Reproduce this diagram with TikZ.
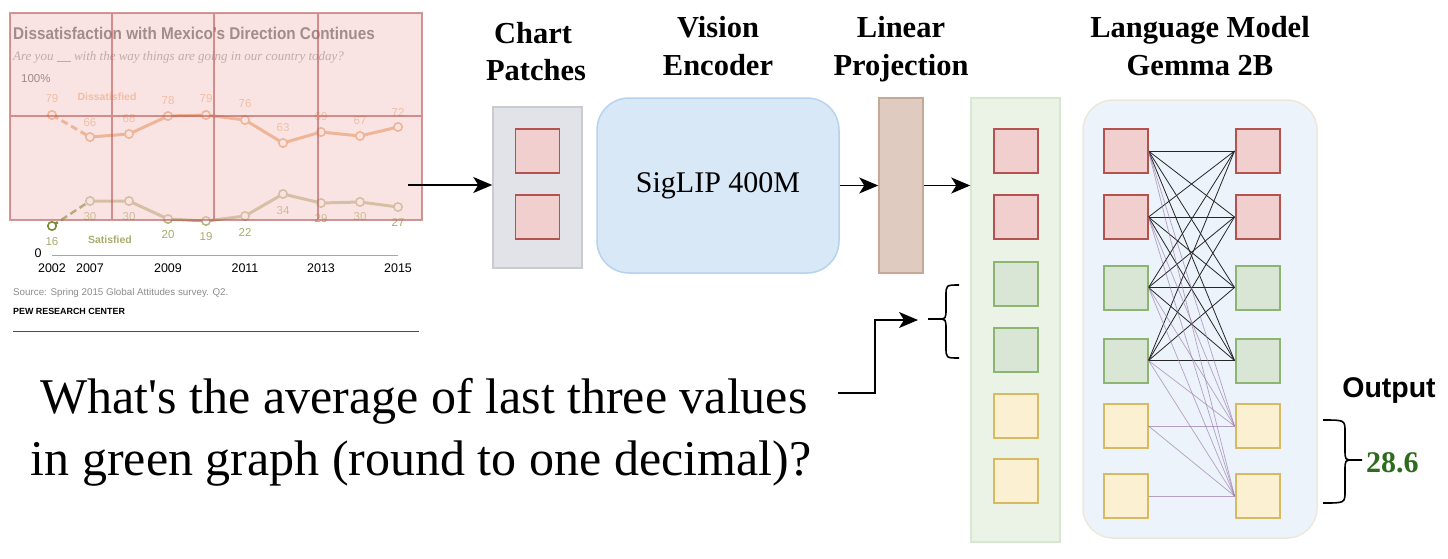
\documentclass[tikz,border=0pt]{standalone}
\usepackage{fontspec}
\setmainfont{Liberation Serif}
\newfontfamily\chartsans{Liberation Sans}
\newfontfamily\qfont{Liberation Serif}[Ligatures=TeXOff]
\usetikzlibrary{arrows.meta}
\definecolor{redF}{HTML}{F1CFCF}
\definecolor{redD}{HTML}{B3524E}
\definecolor{grnF}{HTML}{D9E6D6}
\definecolor{grnD}{HTML}{8CB572}
\definecolor{ylwF}{HTML}{FBF0D2}
\definecolor{ylwD}{HTML}{D7BA62}
\definecolor{patchF}{HTML}{E2E3E8}
\definecolor{patchD}{HTML}{CACBCE}
\definecolor{veF}{HTML}{D9E8F6}
\definecolor{veD}{HTML}{B5D2EE}
\definecolor{lpF}{HTML}{DFCBC0}
\definecolor{lpD}{HTML}{C6A898}
\definecolor{tokF}{HTML}{EBF2E6}
\definecolor{tokD}{HTML}{D8E7D0}
\definecolor{lmF}{HTML}{ECF3FA}
\definecolor{lmD}{HTML}{EEE7DB}
\definecolor{attP}{HTML}{9673A6}
\definecolor{outG}{HTML}{2F6B1E}
\definecolor{dis}{HTML}{E8A267}
\definecolor{disL}{HTML}{EDB27F}
\definecolor{sat}{HTML}{B9B583}
\definecolor{satL}{HTML}{A8AD6C}
\definecolor{satD}{HTML}{7A8D38}
\definecolor{cgray}{HTML}{505050}
\definecolor{ovF}{HTML}{F5C9C7}
\definecolor{ovD}{HTML}{B85450}
\tikzset{
  boxR/.style={draw=redD, fill=redF, line width=2pt, minimum size=44pt, inner sep=0pt},
  boxG/.style={draw=grnD, fill=grnF, line width=2pt, minimum size=44pt, inner sep=0pt},
  boxY/.style={draw=ylwD, fill=ylwF, line width=2pt, minimum size=44pt, inner sep=0pt},
  heading/.style={font=\bfseries\fontsize{30.5}{36}\selectfont, anchor=base, inner sep=0pt},
  flow/.style={line width=1.5pt, -{Stealth[length=19pt, width=16pt, inset=5pt]}},
  attblack/.style={line width=0.8pt, black!85},
  attpurple/.style={line width=0.7pt, attP, draw opacity=0.65},
  brc/.style={line width=1.6pt, line join=round},
  clab/.style={font=\chartsans\fontsize{11.5}{13}\selectfont, inner sep=0pt},
  ylab/.style={font=\chartsans\fontsize{12.5}{14}\selectfont, inner sep=0pt},
  qtext/.style={anchor=base, inner sep=0pt, font=\qfont\fontsize{50}{60}\selectfont},
}
\begin{document}
\begin{tikzpicture}[x=1pt, y=-1pt]
\useasboundingbox (0,0) rectangle (1448,558);

% ---------------- chart -----------------
\node[anchor=base west, inner sep=0pt, text=cgray, font=\chartsans\bfseries\fontsize{17}{20}\selectfont] (ctitle) at (13,39)
  {\scalebox{0.9}[1]{Dissatisfaction with Mexico’s Direction Continues}};
\node[anchor=base west, inner sep=0pt, text=black!45, font=\itshape\fontsize{13}{15}\selectfont] (csub) at (13,60)
  {Are you \underline{\hspace{14pt}} with the way things are going in our country today?};
\node[clab, anchor=base west, text=black!70] (c100) at (21,82) {100\%};

% dissatisfied
\draw[dis, line width=3pt, dash pattern=on 7pt off 4pt] (52,115) -- (90,137);
\draw[dis, line width=3pt, line join=round] (90,137) -- (129,134) -- (168,116) -- (206,115) -- (245,120) -- (283,143) -- (321,132) -- (360,136) -- (398,127);
\foreach \x/\y in {52/115,90/137,129/134,168/116,206/115,245/120,283/143,321/132,360/136,398/127}
  \draw[dis, fill=white, line width=1.6pt] (\x,\y) circle (4.2pt);
\foreach \x/\y/\v [count=\k] in {52/99/79,90/123/66,129/119/68,168/101/78,206/99/79,245/104/76,283/128/63,321/117/69,360/121/67,398/112/72}
  \node[clab, text=disL] (dl\k) at (\x,\y) {\v};
\node[clab, text=disL, font=\chartsans\bfseries\fontsize{10.5}{12}\selectfont] (dlab) at (107,97) {Dissatisfied};

% satisfied
\draw[satD, line width=2.5pt, dash pattern=on 7pt off 4pt] (52,226) -- (90,201);
\draw[sat, line width=3pt, line join=round] (90,201) -- (129,201) -- (168,219) -- (206,221) -- (245,216) -- (283,194) -- (321,203) -- (360,202) -- (398,207);
\foreach \x/\y in {90/201,129/201,168/219,206/221,245/216,283/194,321/203,360/202,398/207}
  \draw[sat, fill=white, line width=1.6pt] (\x,\y) circle (4.2pt);
\draw[satD, fill=white, line width=1.6pt] (52,226) circle (4.2pt);
\foreach \x/\y/\v [count=\k] in {52/242/16,90/217/30,129/217/30,168/235/20,206/237/19,245/232/22,283/211/34,321/219/29,360/217/30,398/222/27}
  \node[clab, text=satL] (sl\k) at (\x,\y) {\v};
\node[clab, text=satL, font=\chartsans\bfseries\fontsize{10.5}{12}\selectfont] (slab) at (110,240) {Satisfied};

% axis
\draw[black!35, line width=0.8pt] (52,255) -- (398,255);
\node[ylab] (c0) at (38,253) {0};
\foreach \x/\v [count=\k] in {52/2002,90/2007,168/2009,245/2011,321/2013,398/2015}
  \node[ylab] (yr\k) at (\x,268) {\v};
\node[anchor=west, inner sep=0pt, text=black!45, font=\chartsans\fontsize{9.8}{11}\selectfont] (csrc) at (13,293)
  {Source: Spring 2015 Global Attitudes survey. Q2.};
\node[anchor=west, inner sep=0pt, font=\chartsans\bfseries\fontsize{8.9}{10}\selectfont] (cpew) at (13,311) {PEW RESEARCH CENTER};
\draw[black!70, line width=0.8pt] (13,331) -- (419,331);

% patch overlay
\fill[ovF, fill opacity=0.5] (10,13) rectangle (422,220);
\draw[ovD, draw opacity=0.6, line width=1.6pt] (10,13) rectangle (422,220)
  (112,13) -- (112,220) (214,13) -- (214,220) (318,13) -- (318,220) (10,116) -- (422,116);

% ---------------- pipeline -----------------
\node[heading] (h1a) at (533,43) {Chart};
\node[heading] (h1b) at (536,80) {Patches};
\node[heading] (h2a) at (718,37) {Vision};
\node[heading] (h2b) at (718,75) {Encoder};
\node[heading] (h3a) at (901,37) {Linear};
\node[heading] (h3b) at (901,75) {Projection};
\node[heading] (h4a) at (1200,37) {Language Model};
\node[heading] (h4b) at (1200,75) {Gemma 2B};

\node[draw=patchD, fill=patchF, line width=1.5pt, minimum width=89pt, minimum height=161pt, inner sep=0pt] (patches) at (537.5,187.5) {};
\node[boxR, line width=1.6pt] (p1) at (537.5,151) {};
\node[boxR, line width=1.6pt] (p2) at (537.5,217) {};

\node[draw=veD, fill=veF, line width=1.5pt, rounded corners=32pt, minimum width=242pt, minimum height=175pt, inner sep=0pt,
  font=\fontsize{30}{36}\selectfont] (ve) at (718,185.5) {SigLIP 400M};
\node[draw=lpD, fill=lpF, line width=1.5pt, minimum width=44pt, minimum height=175pt, inner sep=0pt] (lp) at (901,185.5) {};

\node[draw=tokD, fill=tokF, line width=1.5pt, minimum width=89pt, minimum height=444pt, inner sep=0pt] (tokens) at (1015.5,320) {};
\foreach \i/\y/\c in {1/151/R,2/217/R,3/283.5/G,4/349.5/G,5/415.5/Y,6/480.5/Y}
  \node[box\c] (t\i) at (1015.5,\y) {};

\node[draw=lmD, fill=lmF, line width=1.5pt, rounded corners=30pt, minimum width=234pt, minimum height=438pt, inner sep=0pt] (lm) at (1200,319) {};
\foreach \i/\y/\c in {1/151/R,2/217/R,3/287.5/G,4/360.5/G,5/426/Y,6/496/Y} {
  \node[box\c] (l\i) at (1125.5,\y) {};
  \node[box\c] (r\i) at (1257.5,\y) {};
}
\foreach \i in {1,...,4}
  \foreach \j in {1,...,4}
    \draw[attblack] (l\i.east) -- (r\j.west);
\foreach \i in {1,...,5}
  \draw[attpurple] (l\i.east) -- (r5.west);
\foreach \i in {1,...,6}
  \draw[attpurple] (l\i.east) -- (r6.west);

% arrows
\coordinate (chartout) at (408,185);
\draw[flow] (chartout) -- (chartout -| patches.west);
\draw[flow] (ve.east) -- (lp.west);
\draw[flow] (lp.east) -- (lp.east -| tokens.west);

% question
\node[qtext] (q1) at (424,413) {What's the average of last three values};
\node[qtext] (q2) at (421,475) {in green graph (round to one decimal)?};
\coordinate (qout) at (838,393);
\coordinate (bin) at (918,320);
\draw[flow] (qout) -- (875,393) -- (875,320) -- (bin);
\draw[brc] (959,285) .. controls (946,285) .. (946,296) -- (946,308) .. controls (946,319) .. (938,319) -- (928,319)
  (938,319) .. controls (946,319) .. (946,330) -- (946,347) .. controls (946,358) .. (959,358);

% output
\node[anchor=base, inner sep=0pt, font=\chartsans\bfseries\fontsize{28.5}{33}\selectfont] (outlab) at (1389,397) {Output};
\draw[brc] (1323,420) .. controls (1345,420) .. (1345,432) -- (1345,449) .. controls (1345,460) .. (1353,460) -- (1362,460)
  (1353,460) .. controls (1345,460) .. (1345,471) -- (1345,491) .. controls (1345,503) .. (1323,503);
\node[anchor=base west, inner sep=0pt, text=outG, font=\bfseries\fontsize{30}{34}\selectfont] (ans) at (1366,472) {28.6};
\end{tikzpicture}
\end{document}
